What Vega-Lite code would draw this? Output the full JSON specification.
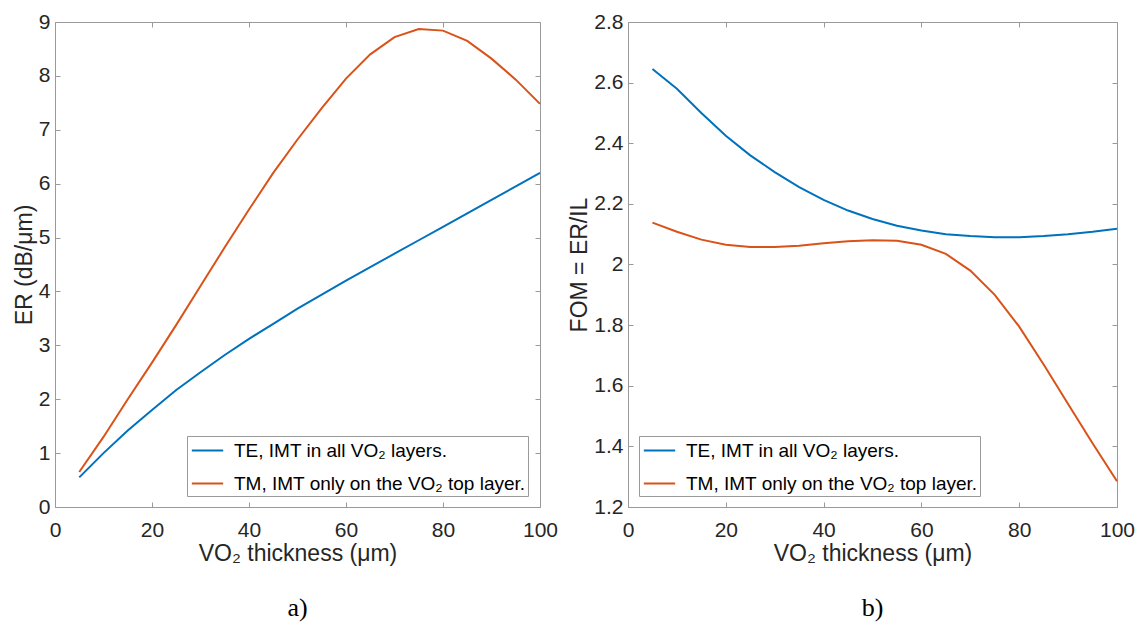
{
  "$schema": "https://vega.github.io/schema/vega-lite/v6.json",
  "padding": {"left": 12, "top": 10, "right": 5, "bottom": 5},
  "config": {
    "font": "Liberation Sans",
    "view": {"stroke": "#9a9a9a", "strokeWidth": 1},
    "axis": {
      "domain": false, "grid": false, "tickColor": "#9a9a9a", "tickSize": -5, "tickWidth": 1, "labelFlush": false,
      "labelColor": "#262626", "labelFontSize": 21, "labelFont": "Liberation Sans",
      "titleFontSize": 23, "titleFontWeight": "normal", "titleColor": "#262626", "titleFont": "Liberation Sans"
    },
    "axisX": {"labelPadding": 17, "titlePadding": 2},
    "axisY": {"labelPadding": 10, "titlePadding": 2},
    "legend": {
      "orient": "none", "title": null, "symbolType": "M-1.4,0H1.4", "symbolStrokeWidth": 2, "symbolSize": 500, "symbolOffset": 6,
      "labelFontSize": 19, "labelFont": "Liberation Sans", "labelColor": "#000000", "labelLimit": 600, "labelOffset": 14,
      "strokeColor": "#9a9a9a", "fillColor": "#ffffff", "padding": 2, "rowPadding": 10, "cornerRadius": 0
    },
    "title": {"orient": "bottom", "font": "Liberation Serif", "fontSize": 26, "fontWeight": "normal", "color": "#000000", "offset": 30}
  },
  "datasets": {
    "er": [
      {"x": 5, "mode": "TE, IMT in all VO₂ layers.", "v": 0.55},
      {"x": 10, "mode": "TE, IMT in all VO₂ layers.", "v": 1.0},
      {"x": 15, "mode": "TE, IMT in all VO₂ layers.", "v": 1.42},
      {"x": 20, "mode": "TE, IMT in all VO₂ layers.", "v": 1.8},
      {"x": 25, "mode": "TE, IMT in all VO₂ layers.", "v": 2.17},
      {"x": 30, "mode": "TE, IMT in all VO₂ layers.", "v": 2.5},
      {"x": 35, "mode": "TE, IMT in all VO₂ layers.", "v": 2.82},
      {"x": 40, "mode": "TE, IMT in all VO₂ layers.", "v": 3.12},
      {"x": 45, "mode": "TE, IMT in all VO₂ layers.", "v": 3.4},
      {"x": 50, "mode": "TE, IMT in all VO₂ layers.", "v": 3.68},
      {"x": 55, "mode": "TE, IMT in all VO₂ layers.", "v": 3.94},
      {"x": 60, "mode": "TE, IMT in all VO₂ layers.", "v": 4.2},
      {"x": 65, "mode": "TE, IMT in all VO₂ layers.", "v": 4.45},
      {"x": 70, "mode": "TE, IMT in all VO₂ layers.", "v": 4.7},
      {"x": 75, "mode": "TE, IMT in all VO₂ layers.", "v": 4.95},
      {"x": 80, "mode": "TE, IMT in all VO₂ layers.", "v": 5.2},
      {"x": 85, "mode": "TE, IMT in all VO₂ layers.", "v": 5.45},
      {"x": 90, "mode": "TE, IMT in all VO₂ layers.", "v": 5.7},
      {"x": 95, "mode": "TE, IMT in all VO₂ layers.", "v": 5.95},
      {"x": 100, "mode": "TE, IMT in all VO₂ layers.", "v": 6.2},
      {"x": 5, "mode": "TM, IMT only on the VO₂ top layer.", "v": 0.65},
      {"x": 10, "mode": "TM, IMT only on the VO₂ top layer.", "v": 1.3},
      {"x": 15, "mode": "TM, IMT only on the VO₂ top layer.", "v": 2.0},
      {"x": 20, "mode": "TM, IMT only on the VO₂ top layer.", "v": 2.68},
      {"x": 25, "mode": "TM, IMT only on the VO₂ top layer.", "v": 3.38},
      {"x": 30, "mode": "TM, IMT only on the VO₂ top layer.", "v": 4.1},
      {"x": 35, "mode": "TM, IMT only on the VO₂ top layer.", "v": 4.82},
      {"x": 40, "mode": "TM, IMT only on the VO₂ top layer.", "v": 5.52},
      {"x": 45, "mode": "TM, IMT only on the VO₂ top layer.", "v": 6.2},
      {"x": 50, "mode": "TM, IMT only on the VO₂ top layer.", "v": 6.82},
      {"x": 55, "mode": "TM, IMT only on the VO₂ top layer.", "v": 7.4},
      {"x": 60, "mode": "TM, IMT only on the VO₂ top layer.", "v": 7.95},
      {"x": 65, "mode": "TM, IMT only on the VO₂ top layer.", "v": 8.4},
      {"x": 70, "mode": "TM, IMT only on the VO₂ top layer.", "v": 8.72},
      {"x": 75, "mode": "TM, IMT only on the VO₂ top layer.", "v": 8.87},
      {"x": 80, "mode": "TM, IMT only on the VO₂ top layer.", "v": 8.84},
      {"x": 85, "mode": "TM, IMT only on the VO₂ top layer.", "v": 8.65},
      {"x": 90, "mode": "TM, IMT only on the VO₂ top layer.", "v": 8.32},
      {"x": 95, "mode": "TM, IMT only on the VO₂ top layer.", "v": 7.93},
      {"x": 100, "mode": "TM, IMT only on the VO₂ top layer.", "v": 7.48}
    ],
    "fom": [
      {"x": 5, "mode": "TE, IMT in all VO₂ layers.", "v": 2.645},
      {"x": 10, "mode": "TE, IMT in all VO₂ layers.", "v": 2.58},
      {"x": 15, "mode": "TE, IMT in all VO₂ layers.", "v": 2.5},
      {"x": 20, "mode": "TE, IMT in all VO₂ layers.", "v": 2.425},
      {"x": 25, "mode": "TE, IMT in all VO₂ layers.", "v": 2.36},
      {"x": 30, "mode": "TE, IMT in all VO₂ layers.", "v": 2.305},
      {"x": 35, "mode": "TE, IMT in all VO₂ layers.", "v": 2.255},
      {"x": 40, "mode": "TE, IMT in all VO₂ layers.", "v": 2.213},
      {"x": 45, "mode": "TE, IMT in all VO₂ layers.", "v": 2.178},
      {"x": 50, "mode": "TE, IMT in all VO₂ layers.", "v": 2.15},
      {"x": 55, "mode": "TE, IMT in all VO₂ layers.", "v": 2.128},
      {"x": 60, "mode": "TE, IMT in all VO₂ layers.", "v": 2.112},
      {"x": 65, "mode": "TE, IMT in all VO₂ layers.", "v": 2.1},
      {"x": 70, "mode": "TE, IMT in all VO₂ layers.", "v": 2.094},
      {"x": 75, "mode": "TE, IMT in all VO₂ layers.", "v": 2.09},
      {"x": 80, "mode": "TE, IMT in all VO₂ layers.", "v": 2.09},
      {"x": 85, "mode": "TE, IMT in all VO₂ layers.", "v": 2.094},
      {"x": 90, "mode": "TE, IMT in all VO₂ layers.", "v": 2.1},
      {"x": 95, "mode": "TE, IMT in all VO₂ layers.", "v": 2.108},
      {"x": 100, "mode": "TE, IMT in all VO₂ layers.", "v": 2.118},
      {"x": 5, "mode": "TM, IMT only on the VO₂ top layer.", "v": 2.138},
      {"x": 10, "mode": "TM, IMT only on the VO₂ top layer.", "v": 2.108},
      {"x": 15, "mode": "TM, IMT only on the VO₂ top layer.", "v": 2.082},
      {"x": 20, "mode": "TM, IMT only on the VO₂ top layer.", "v": 2.065},
      {"x": 25, "mode": "TM, IMT only on the VO₂ top layer.", "v": 2.058},
      {"x": 30, "mode": "TM, IMT only on the VO₂ top layer.", "v": 2.058},
      {"x": 35, "mode": "TM, IMT only on the VO₂ top layer.", "v": 2.062},
      {"x": 40, "mode": "TM, IMT only on the VO₂ top layer.", "v": 2.07},
      {"x": 45, "mode": "TM, IMT only on the VO₂ top layer.", "v": 2.077},
      {"x": 50, "mode": "TM, IMT only on the VO₂ top layer.", "v": 2.08},
      {"x": 55, "mode": "TM, IMT only on the VO₂ top layer.", "v": 2.078},
      {"x": 60, "mode": "TM, IMT only on the VO₂ top layer.", "v": 2.065},
      {"x": 65, "mode": "TM, IMT only on the VO₂ top layer.", "v": 2.035},
      {"x": 70, "mode": "TM, IMT only on the VO₂ top layer.", "v": 1.98},
      {"x": 75, "mode": "TM, IMT only on the VO₂ top layer.", "v": 1.9},
      {"x": 80, "mode": "TM, IMT only on the VO₂ top layer.", "v": 1.795},
      {"x": 85, "mode": "TM, IMT only on the VO₂ top layer.", "v": 1.67},
      {"x": 90, "mode": "TM, IMT only on the VO₂ top layer.", "v": 1.54},
      {"x": 95, "mode": "TM, IMT only on the VO₂ top layer.", "v": 1.41},
      {"x": 100, "mode": "TM, IMT only on the VO₂ top layer.", "v": 1.285}
    ]
  },
  "spacing": 9,
  "resolve": {"scale": {"x": "independent", "y": "independent", "color": "independent"}, "legend": {"color": "independent"}},
  "hconcat": [
    {
      "width": 485, "height": 485,
      "title": {"text": "a)"},
      "data": {"name": "er"},
      "layer": [
        {
          "mark": {"type": "line", "strokeWidth": 2},
          "encoding": {
            "x": {"field": "x", "type": "quantitative", "scale": {"domain": [0, 100], "nice": false, "zero": false},
                  "axis": {"values": [0, 20, 40, 60, 80, 100], "title": "VO₂ thickness (μm)"}},
            "y": {"field": "v", "type": "quantitative", "scale": {"domain": [0, 9], "nice": false, "zero": false},
                  "axis": {"values": [0, 1, 2, 3, 4, 5, 6, 7, 8, 9], "format": "d", "title": "ER (dB/μm)"}},
            "color": {"field": "mode", "type": "nominal",
                      "scale": {"domain": ["TE, IMT in all VO₂ layers.", "TM, IMT only on the VO₂ top layer."], "range": ["#0072BD", "#D95319"]},
                      "legend": {"legendX": 132, "legendY": 414}}
          }
        },
        {
          "mark": {"type": "line", "strokeOpacity": 0},
          "encoding": {
            "x": {"field": "x", "type": "quantitative", "scale": {"domain": [0, 100], "nice": false, "zero": false},
                  "axis": {"orient": "top", "values": [0, 20, 40, 60, 80, 100], "labels": false, "title": null}},
            "y": {"field": "v", "type": "quantitative", "scale": {"domain": [0, 9], "nice": false, "zero": false},
                  "axis": {"orient": "right", "values": [0, 1, 2, 3, 4, 5, 6, 7, 8, 9], "labels": false, "title": null}},
            "detail": {"field": "mode"}
          }
        }
      ],
      "resolve": {"axis": {"x": "independent", "y": "independent"}}
    },
    {
      "width": 489, "height": 485,
      "title": {"text": "b)"},
      "data": {"name": "fom"},
      "layer": [
        {
          "mark": {"type": "line", "strokeWidth": 2},
          "encoding": {
            "x": {"field": "x", "type": "quantitative", "scale": {"domain": [0, 100], "nice": false, "zero": false},
                  "axis": {"values": [0, 20, 40, 60, 80, 100], "title": "VO₂ thickness (μm)"}},
            "y": {"field": "v", "type": "quantitative", "scale": {"domain": [1.2, 2.8], "nice": false, "zero": false},
                  "axis": {"values": [1.2, 1.4, 1.6, 1.8, 2.0, 2.2, 2.4, 2.6, 2.8], "format": ".1~f", "title": "FOM = ER/IL"}},
            "color": {"field": "mode", "type": "nominal",
                      "scale": {"domain": ["TE, IMT in all VO₂ layers.", "TM, IMT only on the VO₂ top layer."], "range": ["#0072BD", "#D95319"]},
                      "legend": {"legendX": 11, "legendY": 414}}
          }
        },
        {
          "mark": {"type": "line", "strokeOpacity": 0},
          "encoding": {
            "x": {"field": "x", "type": "quantitative", "scale": {"domain": [0, 100], "nice": false, "zero": false},
                  "axis": {"orient": "top", "values": [0, 20, 40, 60, 80, 100], "labels": false, "title": null}},
            "y": {"field": "v", "type": "quantitative", "scale": {"domain": [1.2, 2.8], "nice": false, "zero": false},
                  "axis": {"orient": "right", "values": [1.2, 1.4, 1.6, 1.8, 2.0, 2.2, 2.4, 2.6, 2.8], "labels": false, "title": null}},
            "detail": {"field": "mode"}
          }
        }
      ],
      "resolve": {"axis": {"x": "independent", "y": "independent"}}
    }
  ]
}
